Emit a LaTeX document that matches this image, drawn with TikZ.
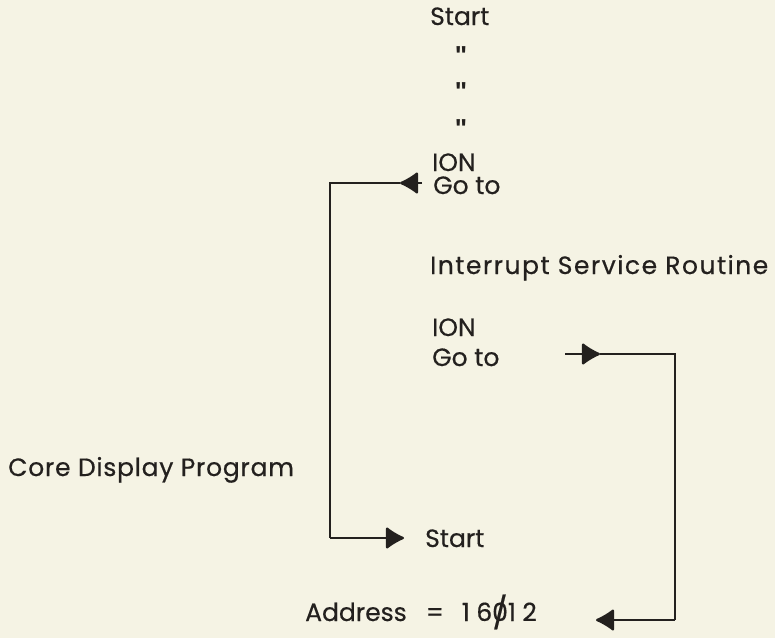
\documentclass[tikz,border=0pt]{standalone}
\usepackage{fontspec}
\setmainfont{Poppins}[FakeBold=0.5]
\newfontfamily\dittofont{Liberation Sans}
\usetikzlibrary{arrows.meta}
\definecolor{paper}{RGB}{245,243,228}
\definecolor{ink}{RGB}{35,32,30}
\begin{document}
\begin{tikzpicture}[x=1pt,y=-1pt,
  lbl/.style={inner sep=0pt,anchor=base west,text=ink,font=\fontsize{25}{28}\selectfont},
  ditto/.style={inner sep=0pt,anchor=north,text=ink,font=\dittofont\bfseries\fontsize{26}{28}\selectfont},
  wire/.style={draw=ink,line width=2.3pt},
  head/.style={-{Latex[length=20pt,width=24pt,round]}}]
\fill[paper] (0,0) rectangle (775,638);
\useasboundingbox (0,0) rectangle (775,638);
\node[lbl] (start1) at (430,25) {Start};
\node[ditto] (d1) at (461,46) {"};
\node[ditto] (d2) at (461,82) {"};
\node[ditto] (d3) at (461,119) {"};
\node[lbl] (ion1) at (432,171) {ION};
\node[lbl] (goto1) at (433,194) {Go to};
\node[lbl] (isr) at (430,274) {\addfontfeature{LetterSpace=6}Interrupt Service Routine};
\node[lbl] (ion2) at (432,336) {ION};
\node[lbl] (goto2) at (432,366) {Go to};
\node[lbl] (core) at (8,476) {\addfontfeature{LetterSpace=3}Core Display Program};
\node[lbl] (start2) at (425,547) {Start};
\node[lbl] (addr) at (305,621) {Address\hspace{19pt}=\hspace{18pt}{\addfontfeature{LetterSpace=26}16{\ooalign{0\cr\hidewidth\raisebox{-3pt}{\scalebox{1.25}{/}}\hidewidth}}12}};
% left loop
\coordinate (a1back) at (422,183);
\coordinate (a1tip) at (400,183);
\coordinate (c1) at (330,183);
\coordinate (c2) at (330,538);
\coordinate (a2tip) at (404,538);
\draw[wire,head] (a1back) -- (a1tip);
\draw[wire] (a1tip) -- (c1) -- (c2);
\draw[wire,head] (c2) -- (a2tip);
% right loop
\coordinate (r0) at (565,354);
\coordinate (r1tip) at (600,354);
\coordinate (r2) at (675,354);
\coordinate (r3) at (675,620);
\coordinate (r4tip) at (596,620);
\draw[wire,head] (r0) -- (r1tip);
\draw[wire] (r1tip) -- (r2) -- (r3);
\draw[wire,head] (r3) -- (r4tip);
\end{tikzpicture}
\end{document}
